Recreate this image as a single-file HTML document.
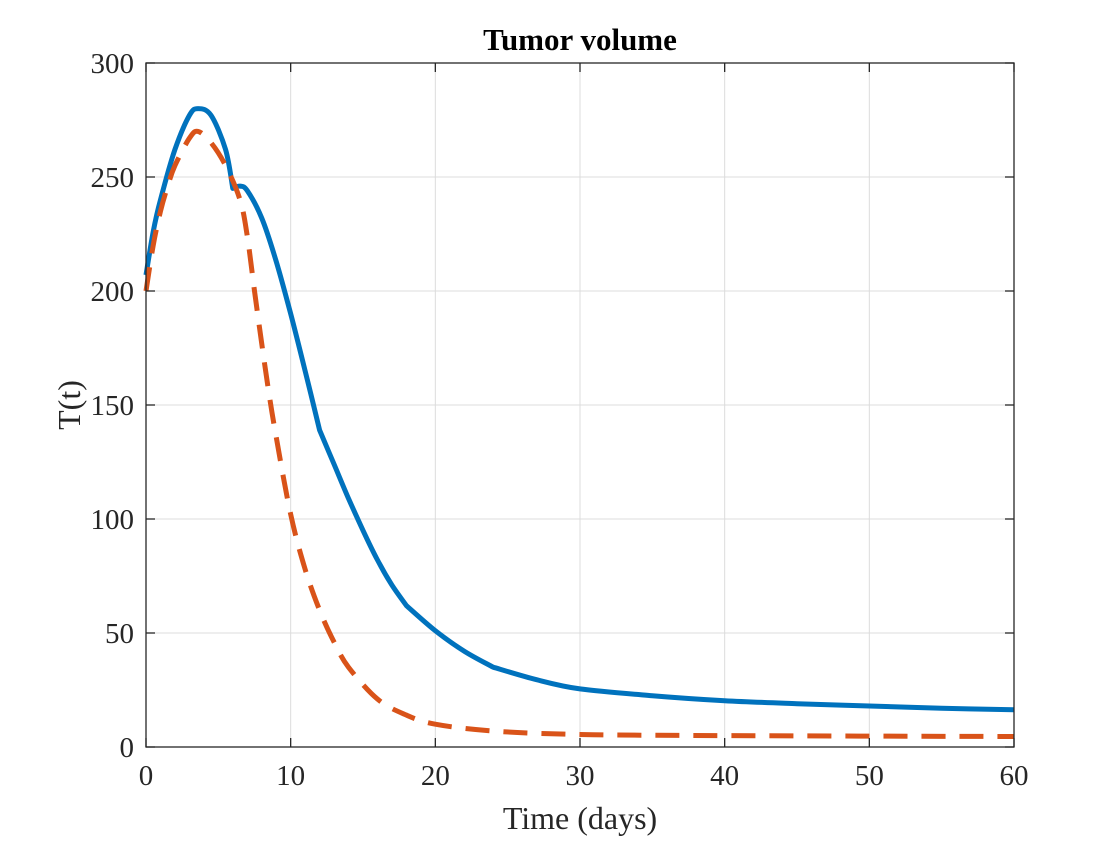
<!DOCTYPE html>
<html><head><meta charset="utf-8"><style>
html,body{margin:0;padding:0;background:#fff;}
svg text{font-family:"Liberation Serif",serif;fill:#262626;}
</style></head><body>
<svg width="1120" height="840" viewBox="0 0 1120 840">
<rect width="1120" height="840" fill="#fff"/>
<g id="grid"></g>
<g id="lines"></g>
<rect x="146" y="63" width="868" height="684" fill="none" stroke="#262626" stroke-width="1.3"/>
<g id="ticks"></g>
<text x="580" y="50" text-anchor="middle" font-size="31" font-weight="bold" style="fill:#000">Tumor volume</text>
<text x="580" y="829" text-anchor="middle" font-size="32">Time (days)</text>
<text transform="translate(80,405) rotate(-90)" text-anchor="middle" font-size="32">T(t)</text>
</svg>
<script>
const xTicks=[0,10,20,30,40,50,60];
const yTicks=[0,50,100,150,200,250,300];
const blueT=[0,0.5,1,2,3,3.6,4.5,5.5,6,6.5,7,8,9,10,11,12,13,14,15,16,17,18,20,22,24,27,30,35,40,45,50,55,60];
const blueV=[207,226,240,262,277,280,277,262,245,246,244,232,213,190,165,139,124,109,95,82,71,62,51,42,35,29.5,25.5,22.5,20.3,19,18,17,16.3];
const blueKinks=[6,12,18,24];
const redT=[0,0.5,1,1.5,2,3,3.6,4.5,5.5,6.5,7,7.5,8,8.5,9,10,11,12,13,14,16,18,20,24,30,40,60];
const redV=[200,220,235,246,255,267,270,265,255,240,224,200,177,155,136,102,78,60,46,35,21,14,10,7,5.5,5,4.6];
const redKinks=[];
const X=t=>146+t*(868/60), Y=v=>747-v*(684/300);
const NS="http://www.w3.org/2000/svg";
const grid=document.getElementById('grid'),ticks=document.getElementById('ticks'),lines=document.getElementById('lines');
function mk(tag,attrs,parent){const e=document.createElementNS(NS,tag);for(const k in attrs)e.setAttribute(k,attrs[k]);parent.appendChild(e);return e;}
xTicks.forEach(t=>{
  const g=mk('line',{x1:X(t),x2:X(t),y1:63,y2:747,stroke:'#dcdcdc','stroke-width':1},grid);
  
  
  mk('line',{x1:X(t),x2:X(t),y1:747,y2:738,stroke:'#262626','stroke-width':1.3},ticks);
  mk('line',{x1:X(t),x2:X(t),y1:63,y2:72,stroke:'#262626','stroke-width':1.3},ticks);
  const l=mk('text',{x:X(t),y:785,'text-anchor':'middle','font-size':29},ticks);
  l.textContent=t;
  
  
});
yTicks.forEach(v=>{
  const g=mk('line',{x1:146,x2:1014,y1:Y(v),y2:Y(v),stroke:'#dcdcdc','stroke-width':1},grid);
  
  
  mk('line',{x1:146,x2:155,y1:Y(v),y2:Y(v),stroke:'#262626','stroke-width':1.3},ticks);
  mk('line',{x1:1014,x2:1005,y1:Y(v),y2:Y(v),stroke:'#262626','stroke-width':1.3},ticks);
  const l=mk('text',{x:134,y:Y(v)+10,'text-anchor':'end','font-size':29},ticks);
  l.textContent=v;
  
  
});
function path(ts,vs,kinks){
  const P=ts.map((t,i)=>[X(t),Y(vs[i])]);
  const isK=i=>i===0||i===P.length-1||kinks.includes(ts[i]);
  let d='M'+P[0][0].toFixed(1)+','+P[0][1].toFixed(1);
  for(let i=0;i<P.length-1;i++){
    const p0=isK(i)?P[i]:P[i-1],p1=P[i],p2=P[i+1],p3=isK(i+1)?P[i+1]:P[i+2];
    const c1=[p1[0]+(p2[0]-p0[0])/6,p1[1]+(p2[1]-p0[1])/6];
    const c2=[p2[0]-(p3[0]-p1[0])/6,p2[1]-(p3[1]-p1[1])/6];
    d+=' C'+c1.map(n=>n.toFixed(1))+' '+c2.map(n=>n.toFixed(1))+' '+p2.map(n=>n.toFixed(1));
  }
  return d;
}
const b=mk('path',{d:path(blueT,blueV,blueKinks),fill:'none',stroke:'#0072BD','stroke-width':5,'stroke-linejoin':'round'},lines);


const r=mk('path',{d:path(redT,redV,redKinks),fill:'none',stroke:'#D95319','stroke-width':5,'stroke-dasharray':'24,14'},lines);


</script>
</body></html>
